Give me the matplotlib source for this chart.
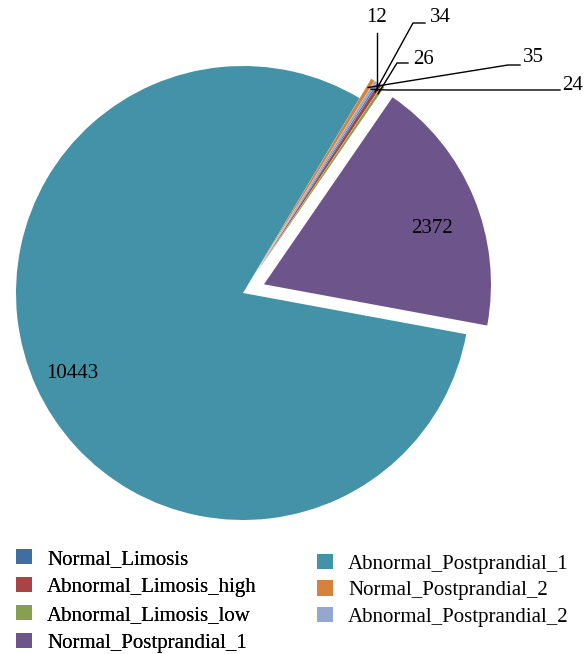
import numpy as np
import matplotlib.pyplot as plt
from matplotlib.patches import Patch

plt.rcParams['font.family'] = ['Liberation Serif', 'DejaVu Serif']

# data
categories = ['Normal_Limosis', 'Abnormal_Limosis_high', 'Abnormal_Limosis_low',
              'Normal_Postprandial_1', 'Abnormal_Postprandial_1',
              'Normal_Postprandial_2', 'Abnormal_Postprandial_2']
counts = [12, 34, 26, 2372, 10443, 35, 24]
colors = ['#3f6ea3', '#a84443', '#87a04f', '#6d558c', '#4392a8', '#d6823e', '#92a8cf']
explode = [0.1, 0.1, 0.1, 0.1, 0.0, 0.1, 0.1]

W, H = 587, 654
CX, CY, R = 243, 293, 227   # pie centre / radius in pixels
FS = 15


def px(x, y):
    # pixel position (from top-left) -> data coords
    return (x - CX) / R, (CY - y) / R


fig = plt.figure(figsize=(W / 100, H / 100), dpi=100)
ax = fig.add_axes([0, 0, 1, 1])

wedges, _ = ax.pie(counts, colors=colors, explode=explode, startangle=57.5,
                   counterclock=False, radius=1.0,
                   wedgeprops=dict(linewidth=0))
ax.set_xlim((0 - CX) / R, (W - CX) / R)
ax.set_ylim((CY - H) / R, CY / R)
ax.set_aspect('auto')
ax.axis('off')


def tip(w, r=1.0, da=0.0):
    a = np.deg2rad((w.theta1 + w.theta2) / 2 + da)
    cx, cy = w.center
    return cx + r * np.cos(a), cy + r * np.sin(a)


# labels inside the big slices (radius, angle shift)
inside = {3: (0.78, -4.0), 4: (0.83, 1.0)}
for i, (r, da) in inside.items():
    x, y = tip(wedges[i], r, da)
    ax.text(x, y, str(counts[i]), ha='center', va='center', fontsize=FS)

# small slices: text position and elbow of the leader line (pixels)
small = {
    0: dict(text=(377, 18, 'center'), elbow=None),
    1: dict(text=(430, 17, 'left'), elbow=((425, 23), (413, 23))),
    2: dict(text=(413, 60, 'left'), elbow=((408, 63), (397, 63))),
    5: dict(text=(523, 58, 'left'), elbow=((520, 65), (508, 65))),
    6: dict(text=(562, 86, 'left'), elbow=((560, 90), (388, 90))),
}
for i, s in small.items():
    tx, ty, ha = s['text']
    ax.text(*px(tx, ty), str(counts[i]), ha=ha, va='center', fontsize=FS)
    end = tip(wedges[i], 0.96)
    if s['elbow'] is None:
        p0 = px(tx, 33)
        ax.plot([p0[0], p0[0]], [p0[1], end[1]], color='black', lw=1)
    else:
        a, b = px(*s['elbow'][0]), px(*s['elbow'][1])
        ax.plot([a[0], b[0], end[0]], [a[1], b[1], end[1]], color='black', lw=1)

handles = [Patch(facecolor=c, edgecolor='none') for c in colors]
leg_kw = dict(loc='upper left', frameon=False, fontsize=FS, borderpad=0,
              borderaxespad=0, handlelength=0.75, handleheight=0.75,
              handletextpad=0.75)
leg1 = fig.legend(handles[:4], categories[:4], bbox_to_anchor=(16 / W, 1 - 549 / H),
                  labelspacing=0.39, **leg_kw)
fig.add_artist(leg1)
fig.legend(handles[4:], categories[4:], bbox_to_anchor=(317 / W, 1 - 554 / H),
           labelspacing=0.31, **leg_kw)

fig.savefig('out.png', dpi=100)
